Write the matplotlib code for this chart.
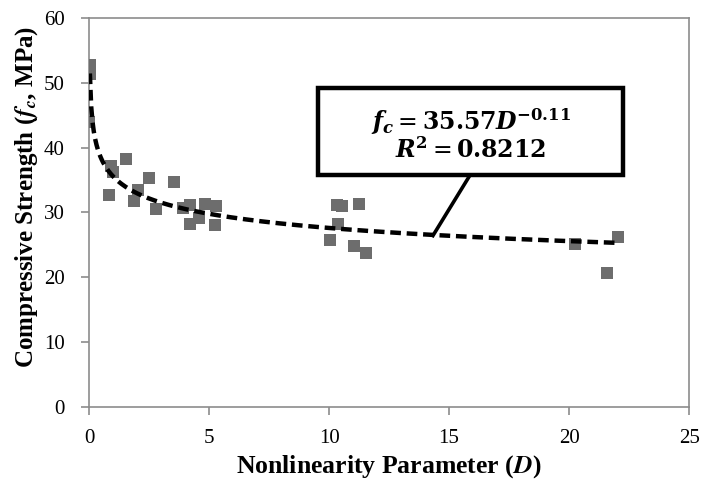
import matplotlib
matplotlib.use("Agg")
import matplotlib.pyplot as plt
from matplotlib.patches import Rectangle
import numpy as np

D_vals = [0.05, 0.02, 0.0, 0.91, 1.54, 0.98, 0.84, 2.02, 1.88, 2.51, 2.79, 3.53,
          4.19, 3.9, 4.82, 5.3, 4.19, 4.6, 5.23,
          10.35, 10.55, 11.26, 10.36, 10.05, 11.06, 11.53,
          20.24, 22.05, 21.57]
fc_vals = [52.7, 51.3, 44.0, 37.2, 38.2, 36.3, 32.7, 33.5, 31.8, 35.3, 30.6, 34.7,
           31.1, 30.7, 31.3, 31.0, 28.2, 29.1, 28.0,
           31.2, 31.0, 31.3, 28.3, 25.8, 24.8, 23.7,
           25.2, 26.2, 20.6]
fit_a = 35.57
fit_b = -0.11
x_ticks = [0, 5, 10, 15, 20, 25]
y_ticks = [0, 10, 20, 30, 40, 50, 60]

plt.rcParams['font.family'] = ['Liberation Serif', 'DejaVu Serif']
plt.rcParams['mathtext.fontset'] = 'stix'
fig = plt.figure(figsize=(7.01, 4.84), dpi=100)
ax = fig.add_axes([0.127, 0.159, 0.856, 0.804])

ax.scatter(D_vals, fc_vals, marker='s', s=72, color='#6d6d6d', zorder=3, linewidths=0)
xf = np.linspace(0.035, 22.0, 400)
ax.plot(xf, fit_a * xf ** fit_b, color='black', lw=3.2, ls=(0, (2.4, 1.3)), zorder=4)

ax.set_xlim(0, 25)
ax.set_ylim(0, 60)
ax.set_xticks(x_ticks)
ax.set_yticks(y_ticks)
for s in ax.spines.values():
    s.set_color('#8c8c8c')
    s.set_linewidth(1.2)
ax.tick_params(direction='out', length=6, width=1.2, color='#8c8c8c',
               labelsize=15)
ax.tick_params(axis='x', pad=10)
ax.tick_params(axis='y', pad=11.5)

ax.set_xlabel(r'Nonlinearity Parameter ($\mathbfit{D}$)', fontsize=18.5,
              fontweight='bold')
ax.set_ylabel(r'Compressive Strength ($\mathbfit{f}_{\mathbfit{c}}$, MPa)', fontsize=18,
              fontweight='bold')
ax.xaxis.set_label_coords(0.5, -0.118)
ax.yaxis.set_label_coords(-0.082, 0.54)

# callout line and box
ax.plot([15.88, 14.29], [35.8, 26.2], color='black', lw=2.6, zorder=5,
        solid_capstyle='butt')
ax.add_patch(Rectangle((9.55, 35.8), 12.7, 13.4, fc='white', ec='black', lw=3.2,
                       zorder=6))
t = ax.text(15.9, 42.0,
            r'$\mathbfit{f}_{\mathbfit{c}} = \mathbf{35.57}\mathbfit{D}^{\mathbf{-0.11}}$'
            + '\n' + r'$\mathbfit{R}^{\mathbf{2}} = \mathbf{0.8212}$',
            ha='center', va='center', fontsize=17, linespacing=1.0, zorder=7)
t.set_math_fontfamily('dejavuserif')

fig.savefig('out.png', dpi=100)
